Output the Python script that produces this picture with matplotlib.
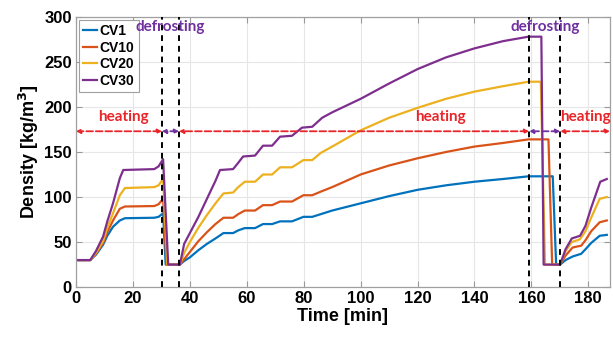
import numpy as np
import matplotlib.pyplot as plt

# series data (time in min, density in kg/m3)
t_cv1 = [0, 5, 7, 9.5, 11, 13, 15.4, 17.2, 27.5, 29, 30.6, 31.5, 36.5, 38, 40, 43, 46, 49, 51.8,
         55.2, 57, 59.3, 62.9, 65.7, 68.9, 71.7, 75.9, 79.9, 83, 86, 90, 100, 110, 120, 130, 140,
         150, 159, 167.5, 168.7, 170.1, 172, 174.5, 177.5, 179, 181, 184, 186.5]
v_cv1 = [30, 30, 36, 47, 57, 67, 74, 76.5, 77, 78, 82, 25, 25, 29, 33, 41, 48, 54, 60,
         60, 63, 65.5, 65.5, 70, 70, 73, 73, 78, 78, 81, 85, 93, 101, 108, 113, 117,
         120, 123, 123, 25, 25, 30, 34, 37, 42, 49, 57, 58]

t_cv10 = [0, 5, 7, 9.5, 11, 13, 15.4, 17.2, 27.5, 29, 30.6, 31.8, 36.5, 38, 40, 43, 46, 49, 51.8,
          55.2, 57, 59.3, 62.9, 65.7, 68.9, 71.7, 75.9, 79.9, 83, 86, 90, 100, 110, 120, 130, 140,
          150, 159, 166, 167.3, 170.1, 172, 174.5, 177.5, 179, 181, 184, 186.5]
v_cv10 = [30, 30, 37, 49, 61, 74, 87, 89.5, 90, 92, 98, 25, 25, 31, 39, 51, 61, 70, 77,
          77, 81, 85, 85, 91, 91, 95, 95, 102, 102, 106, 111, 125, 135, 143, 150, 156,
          160, 164, 164, 25, 25, 35, 44, 46, 52, 62, 72, 74]

t_cv20 = [0, 5, 7, 9.5, 11, 13, 15.4, 17.2, 27.5, 29, 30.6, 32.1, 36.5, 38, 40, 43, 46, 49, 51.8,
          55.2, 57, 59.3, 62.9, 65.7, 68.9, 71.7, 75.9, 79.9, 83, 86, 90, 100, 110, 120, 130, 140,
          150, 159, 163.3, 164.8, 170.1, 172, 174.2, 177, 179, 181, 184, 186.5]
v_cv20 = [30, 30, 38, 51, 66, 82, 102, 110, 111, 113, 120, 25, 25, 38, 50, 66, 80, 93, 104,
          105, 111, 117, 117, 125, 125, 133, 133, 141, 141, 149, 156, 174, 188, 199, 209, 217,
          223, 228, 228, 25, 25, 40, 50, 53, 62, 77, 98, 100]

t_cv30 = [0, 5, 7, 9.5, 11, 13, 15.4, 16.6, 27.5, 29, 30.6, 32.4, 36.5, 38, 40, 43, 46, 49, 50.6,
          55.2, 57, 58.7, 62.9, 65.7, 68.9, 71.7, 75.9, 79.4, 83, 86.5, 90, 100, 110, 120, 130, 140,
          150, 159, 163.5, 164.3, 170.1, 172, 174.2, 177.1, 179, 181, 184.2, 186.5]
v_cv30 = [30, 30, 40, 56, 73, 93, 121, 130, 131, 134, 142, 25, 25, 48, 60, 78, 98, 118, 130,
          131, 138, 145, 146, 157, 157, 167, 168, 177, 178, 188, 194, 209, 226, 242, 255, 265,
          273, 278, 278, 25, 25, 42, 54, 57, 68, 88, 117, 120]

labels = ['CV1', 'CV10', 'CV20', 'CV30']
colors = ['#0072BD', '#D95319', '#EDB120', '#7E2F8E']

defrost_start = [30.2, 159.2]
defrost_end = [36.2, 170.1]
arrow_y = 173
x_max = 187.6

plt.rcParams['font.family'] = ['Liberation Sans', 'DejaVu Sans']
fig = plt.figure(figsize=(6.13, 3.37), dpi=100)
ax = fig.add_axes([0.124, 0.148, 0.871, 0.802])

series = [(t_cv1, v_cv1), (t_cv10, v_cv10), (t_cv20, v_cv20), (t_cv30, v_cv30)]
for (t, v), lab, c in zip(series, labels, colors):
    ax.plot(t, v, color=c, lw=1.6, label=lab)

for x in defrost_start + defrost_end:
    ax.plot([x, x], [0, 300], color='black', lw=1.4, ls=(0, (3, 2.5)), zorder=5)

red = '#E8262A'
purple = '#7030A0'

def dbl_arrow(x0, x1, col):
    ax.annotate('', xy=(x0, arrow_y), xytext=(x1, arrow_y),
                arrowprops=dict(arrowstyle='<|-|>', color=col, lw=1.3, ls='--',
                                mutation_scale=6, shrinkA=0, shrinkB=0), zorder=6)

dbl_arrow(0, defrost_start[0], red)
dbl_arrow(defrost_end[0], defrost_start[1], red)
dbl_arrow(defrost_end[1], x_max, red)
dbl_arrow(defrost_start[0], defrost_end[0], purple)
dbl_arrow(defrost_start[1], defrost_end[1], purple)

tf = dict(fontfamily=['Lato', 'DejaVu Sans'], fontweight='bold', fontsize=11,
          ha='center', va='center', zorder=7)
ax.text(16.8, 189, 'heating', color=red, **tf)
ax.text(128, 189, 'heating', color=red, **tf)
ax.text(179, 189, 'heating', color=red, **tf)
ax.text(33, 289, 'defrosting', color=purple, **tf)
ax.text(165, 289, 'defrosting', color=purple, **tf)

ax.set_xlim(0, x_max)
ax.set_ylim(0, 300)
ax.set_xticks(np.arange(0, 181, 20))
ax.set_yticks(np.arange(0, 301, 50))
ax.grid(True, color='#E6E6E6', lw=0.8)
ax.set_axisbelow(True)
ax.tick_params(direction='in', top=True, right=True, length=4, width=0.8,
               color='#999999', labelsize=12, pad=3)
for lbl in ax.get_xticklabels() + ax.get_yticklabels():
    lbl.set_fontweight('bold')
for s in ax.spines.values():
    s.set_color('#A0A0A0')
    s.set_linewidth(0.9)

ax.set_xlabel('Time [min]', fontsize=13, fontweight='bold', labelpad=1)
ax.set_ylabel('Density [kg/m$^\\mathbf{3}$]', fontsize=13, fontweight='bold', labelpad=2)

leg = ax.legend(loc='upper left', fontsize=10, prop={'weight': 'bold', 'size': 10},
                handlelength=1.0, handletextpad=0.2, borderpad=0.3, labelspacing=0.2,
                borderaxespad=0.2, fancybox=False, framealpha=1)
leg.get_frame().set_edgecolor('#A0A0A0')
leg.get_frame().set_linewidth(0.8)

fig.savefig('out.png', dpi=100)
